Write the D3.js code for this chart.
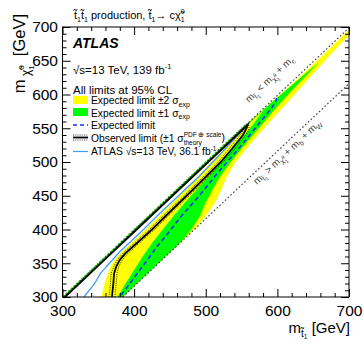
<!DOCTYPE html>
<html><head><meta charset="utf-8">
<script src="https://cdn.jsdelivr.net/npm/d3@7"></script>
<style>
body{margin:0;background:#fff}
svg{display:block}
text{font-family:"Liberation Sans",Arial,Helvetica,sans-serif;white-space:pre;fill:#000}
</style>
</head><body>
<svg id="c" width="364" height="345"></svg>
<script>
// ---------------- data (GeV) ----------------
const xTicks = [300, 400, 500, 600, 700];
const yTicks = [300, 350, 400, 450, 500, 550, 600, 650, 700];
const kinCharm = 1.3;      // m_t1 = m_chi + m_c
const kinBW = 84;          // m_t1 = m_chi + m_b + m_W

// Each band: m_chi values and delta = m_stop - m_chi for upper(near diagonal)/lower edges
// +2 sigma (outer yellow)
const mChiA = [300, 340, 380, 400, 420, 440, 460, 480, 500, 520, 540, 560, 580, 600, 620, 640, 660, 680, 700, 720];
const dA_up = [0, 0, 0, 0, 0, 0, 0, 0, 0, 0, 0.5, 1, 2.5, 4, 5, 5, 5, 4.5, 4, 4];
const dA_lo = [84, 84, 84, 84, 80, 73, 62, 50, 42, 37, 33, 30, 27, 24, 21, 18, 15, 13, 10, 8];
// +1 sigma (green)
const mChiB = [300, 340, 380, 400, 420, 440, 460, 480, 500, 520, 540, 560, 580, 600, 620, 640, 648];
const dB_up = [0, 0, 0, 0, 0, 0, 0, 0, 0, 0, 0.5, 1.5, 3, 5, 7, 9, 11];
const dB_lo = [84, 84, 84, 80, 72, 60, 50, 41, 35, 30, 26, 22, 18, 15, 13, 11, 11];
// -1 sigma (inner yellow)
const mChiC = [300, 320, 340, 360, 380, 400, 420, 445, 480, 520, 550, 570, 580];
const dC_up = [3.5, 3.5, 3.5, 3.5, 3.5, 3.5, 3.5, 3.5, 3.5, 3.5, 3.5, 3.5, 3];
const dC_lo = [77, 68, 60, 52, 45, 40, 35, 30, 25, 18, 12, 6, 3];
// -2 sigma (inner white)
const mChiD = [300, 312, 325, 345, 360, 380, 400, 440, 480, 520, 540];
const dD_up = [3.5, 3.5, 3.5, 3.5, 3.5, 3.5, 3.5, 3.5, 3.5, 3.5, 3.5];
const dD_lo = [54, 45, 35, 22, 16, 16, 16, 14, 10, 6, 3.5];
// Expected limit
const mChiExp = [303, 320, 340, 360, 375, 390, 420, 445, 483, 520, 550, 580, 590, 595];
const dExp = [79, 74, 68, 62, 57, 54, 46, 42, 33, 26, 19, 12, 8, 4];
// Observed limit (lower branch, then upper branch along diagonal) and theory +-1 sigma
const mChiObs = [300, 320, 335, 345, 355, 365, 380, 400, 420, 440, 460, 480, 500, 520, 540, 550, 555];
const dObs = [69, 51, 37, 30, 25, 23, 24, 25, 24, 23.5, 23, 22, 21, 17, 12, 7, 3.5];
const dObsUpBranch = [3.5, 3.5, 3.5, 3.5, 3.5, 3.5, 3.5, 3.5, 3.5, 3.5, 3.5, 3.5, 3.5, 3.5, 3.5, 3.5, 3.5];
const dObsThUp = [73, 55, 41, 33.5, 28.5, 26.5, 27.5, 28.5, 27.5, 27, 26.5, 25.5, 24.5, 21, 16, 11, 4];
const dObsThDn = [65, 47, 33, 26.5, 21.5, 19.5, 20.5, 21.5, 20.5, 20, 19.5, 18.5, 17.5, 13, 8, 4, 3.5];
// ATLAS 36.1 fb-1 observed
const mChiOld = [300, 320, 335, 342, 347, 367, 379, 399, 420, 450, 480, 510, 540, 560];
const dOld = [30, 25, 18, 17, 16, 13, 13, 13, 12, 12, 12, 9, 5, 2];

// ---------------- drawing ----------------
const svg = d3.select("#c");
const x = d3.scaleLinear().domain([300, 700]).range([62.5, 349]);
const y = d3.scaleLinear().domain([300, 700]).range([297, 27]);
const X0 = x(300), X1 = x(700), Y0 = y(300), Y1 = y(700);

svg.append("defs").append("clipPath").attr("id", "clip")
  .append("rect").attr("x", X0).attr("y", Y1).attr("width", X1 - X0).attr("height", Y0 - Y1);
const g = svg.append("g").attr("clip-path", "url(#clip)");

const line = d3.line().x(d => x(d[0])).y(d => y(d[1]));
const pts = (m, d) => m.map((v, i) => [v + d[i], v]);
function band(m, du, dl) { return pts(m, du).concat(pts(m, dl).reverse()); }

g.append("path").attr("d", line(band(mChiA, dA_up, dA_lo)) + "Z").attr("fill", "#ffff00");
g.append("path").attr("d", line(band(mChiB, dB_up, dB_lo)) + "Z").attr("fill", "#00ff00");
g.append("path").attr("d", line(band(mChiC, dC_up, dC_lo)) + "Z").attr("fill", "#ffff00");
g.append("path").attr("d", line(band(mChiD, dD_up, dD_lo)) + "Z").attr("fill", "#ffffff");

// jagged green edge along the diagonal (render style of the +1 sigma band edge)
g.append("path").attr("d", line(pts(mChiObs, dObsUpBranch.map(() => kinCharm))))
  .attr("fill", "none").attr("stroke", "#22c422").attr("stroke-width", 2.6).attr("stroke-dasharray", "2,1.6");

// kinematic lines
[kinCharm, kinBW].forEach(k => {
  g.append("path").attr("d", line([[300 + k, 300], [720 + k, 720]]))
    .attr("stroke", "#444").attr("stroke-width", 1.2).attr("stroke-dasharray", "1.6,2.2").attr("fill", "none");
});

// old ATLAS
g.append("path").attr("d", line(pts(mChiOld, dOld))).attr("fill", "none")
  .attr("stroke", "#3f9cff").attr("stroke-width", 1.3);
// expected
g.append("path").attr("d", line(pts(mChiExp, dExp))).attr("fill", "none")
  .attr("stroke", "#1a2cff").attr("stroke-width", 1.6).attr("stroke-dasharray", "4.5,3");
// theory dotted
[dObsThUp, dObsThDn].forEach(d => {
  g.append("path").attr("d", line(pts(mChiObs, d))).attr("fill", "none")
    .attr("stroke", "#000").attr("stroke-width", 0.8).attr("stroke-dasharray", "1,1.2");
});
// observed
g.append("path").attr("d", line(pts(mChiObs, dObs).concat(pts(mChiObs, dObsUpBranch).reverse())))
  .attr("fill", "none").attr("stroke", "#000").attr("stroke-width", 1.8);

// ---------------- axes ----------------
const xMinor = d3.range(300, 701, 20).filter(v => !xTicks.includes(v));
const yMinor = d3.range(300, 701, 10).filter(v => !yTicks.includes(v));
function ax(gen, pos, vals, size, lbl) {
  const a = svg.append("g").attr("transform", pos)
    .call(gen.tickValues(vals).tickSize(size).tickFormat(lbl ? d3.format("d") : ""));
  a.select(".domain").remove();
  a.selectAll("line").attr("stroke", "#000");
  return a;
}
const xb = ax(d3.axisBottom(x), `translate(0,${Y0})`, xTicks, -8, true);
xb.selectAll("text").attr("font-size", 15.5).attr("dy", null).attr("y", 19).attr("font-family", "Liberation Sans, Arial");
ax(d3.axisBottom(x), `translate(0,${Y0})`, xMinor, -4, false);
ax(d3.axisTop(x), `translate(0,${Y1})`, xTicks, -8, false);
ax(d3.axisTop(x), `translate(0,${Y1})`, xMinor, -4, false);
const yl = ax(d3.axisLeft(y), `translate(${X0},0)`, yTicks, -8, true);
yl.selectAll("text").attr("font-size", 15.5).attr("x", -4.5).attr("font-family", "Liberation Sans, Arial");
ax(d3.axisLeft(y), `translate(${X0},0)`, yMinor, -4, false);
ax(d3.axisRight(y), `translate(${X1},0)`, yTicks, -8, false);
ax(d3.axisRight(y), `translate(${X1},0)`, yMinor, -4, false);
svg.append("rect").attr("x", X0).attr("y", Y1).attr("width", X1 - X0).attr("height", Y0 - Y1)
  .attr("fill", "none").attr("stroke", "#000").attr("stroke-width", 1);

// ---------------- rich text helper ----------------
function rich(parent, segs, color) {
  const gg = parent.append("g");
  let cx = 0, lastW = 0;
  for (const s of segs) {
    const xp = s.back ? cx - lastW : cx;
    const t = gg.append("text").attr("x", xp).attr("y", s.dy || 0).attr("font-size", s.fs).text(s.s);
    if (s.bold) t.attr("font-weight", "bold");
    if (s.italic) t.attr("font-style", "italic");
    if (color) t.style("fill", color);
    const w = t.node().getComputedTextLength();
    cx = s.back ? xp + Math.max(w, lastW) : xp + w;
    lastW = w;
  }
  gg.w = cx;
  return gg;
}
const T = "t\u0303", CHI = "\u03c7\u0303";

// title
rich(svg, [
  {s: T, fs: 11}, {s: "1", fs: 7, dy: 2.5}, {s: T, fs: 11}, {s: "1", fs: 7, dy: 2.5},
  {s: " production, " + T, fs: 11}, {s: "1", fs: 7, dy: 2.5}, {s: "\u2192 c" + CHI, fs: 11},
  {s: "0", fs: 7, dy: -5}, {s: "1", fs: 7, dy: 3, back: true}
]).attr("transform", "translate(74,19)");

// axis titles
const xt = rich(svg, [{s: "m", fs: 15}, {s: T, fs: 10, dy: 3.5}, {s: "1", fs: 6.5, dy: 6}, {s: " [GeV]", fs: 15}]);
xt.attr("transform", `translate(${350 - xt.w},333)`);
const yt = rich(svg, [{s: "m", fs: 16.5}, {s: " " + CHI, fs: 12, dy: 4.5}, {s: "0", fs: 8, dy: -1}, {s: "1", fs: 8, dy: 9, back: true}, {s: "  [GeV]", fs: 16.5}]);
yt.attr("transform", `translate(25,14) rotate(-90) translate(${-yt.w},0)`);

// ATLAS block
rich(svg, [{s: "ATLAS", fs: 14, bold: true, italic: true}]).attr("transform", "translate(73,48)");
rich(svg, [{s: "\u221as=13 TeV, 139 fb", fs: 11.5}, {s: "-1", fs: 7.5, dy: -5}]).attr("transform", "translate(73,74)");
rich(svg, [{s: "All limits at 95% CL", fs: 11.5}]).attr("transform", "translate(73,94)");

// legend
const lg = svg.append("g");
lg.append("rect").attr("x", 73).attr("y", 96).attr("width", 15).attr("height", 8).attr("fill", "#ffff00");
lg.append("rect").attr("x", 73).attr("y", 108).attr("width", 15).attr("height", 8).attr("fill", "#00ff00");
lg.append("line").attr("x1", 73).attr("x2", 88).attr("y1", 125).attr("y2", 125)
  .attr("stroke", "#1a2cff").attr("stroke-width", 1.5).attr("stroke-dasharray", "4,3");
lg.append("line").attr("x1", 73).attr("x2", 88).attr("y1", 137.5).attr("y2", 137.5).attr("stroke", "#000").attr("stroke-width", 1.8);
[135, 140].forEach(v => lg.append("line").attr("x1", 73).attr("x2", 88).attr("y1", v).attr("y2", v)
  .attr("stroke", "#000").attr("stroke-width", 0.8).attr("stroke-dasharray", "1,1.2"));
lg.append("line").attr("x1", 73).attr("x2", 88).attr("y1", 151.5).attr("y2", 151.5).attr("stroke", "#3f9cff").attr("stroke-width", 1.2);
rich(lg, [{s: "Expected limit \u00b12 \u03c3", fs: 10.3}, {s: "exp", fs: 7, dy: 2.5}]).attr("transform", "translate(91,104)");
rich(lg, [{s: "Expected limit \u00b11 \u03c3", fs: 10.3}, {s: "exp", fs: 7, dy: 2.5}]).attr("transform", "translate(91,116.5)");
rich(lg, [{s: "Expected limit", fs: 10.3}]).attr("transform", "translate(91,128.5)");
rich(lg, [{s: "Observed limit (\u00b11 \u03c3", fs: 10.3}, {s: "PDF \u2295 scale", fs: 6.5, dy: -5},
  {s: "theory", fs: 6.5, dy: 3.5, back: true}, {s: ")", fs: 10.3, dy: -1}]).attr("transform", "translate(91,141.5)");
rich(lg, [{s: "ATLAS \u221as=13 TeV, 36.1 fb", fs: 10.3}, {s: "-1", fs: 6.5, dy: -4.5}]).attr("transform", "translate(91,155)");

// kinematic labels
const ang = -Math.atan((Y0 - Y1) / (X1 - X0)) * 180 / Math.PI;
rich(svg, [{s: "m", fs: 10}, {s: T, fs: 7, dy: 2.5}, {s: "1", fs: 5, dy: 4}, {s: " < m", fs: 10},
  {s: CHI, fs: 7, dy: 2.5}, {s: "0", fs: 5, dy: -1}, {s: "1", fs: 5, dy: 5, back: true},
  {s: " + m", fs: 10}, {s: "c", fs: 7, dy: 2.5}], "#444")
  .attr("transform", `translate(249,103) rotate(${ang})`);
rich(svg, [{s: "m", fs: 10}, {s: T, fs: 7, dy: 2.5}, {s: "1", fs: 5, dy: 4}, {s: " > m", fs: 10},
  {s: CHI, fs: 7, dy: 2.5}, {s: "0", fs: 5, dy: -1}, {s: "1", fs: 5, dy: 5, back: true},
  {s: " + m", fs: 10}, {s: "b", fs: 7, dy: 2.5}, {s: " + m", fs: 10}, {s: "W", fs: 7, dy: 2.5}], "#444")
  .attr("transform", `translate(257,185) rotate(${ang})`);
</script>
</body></html>
